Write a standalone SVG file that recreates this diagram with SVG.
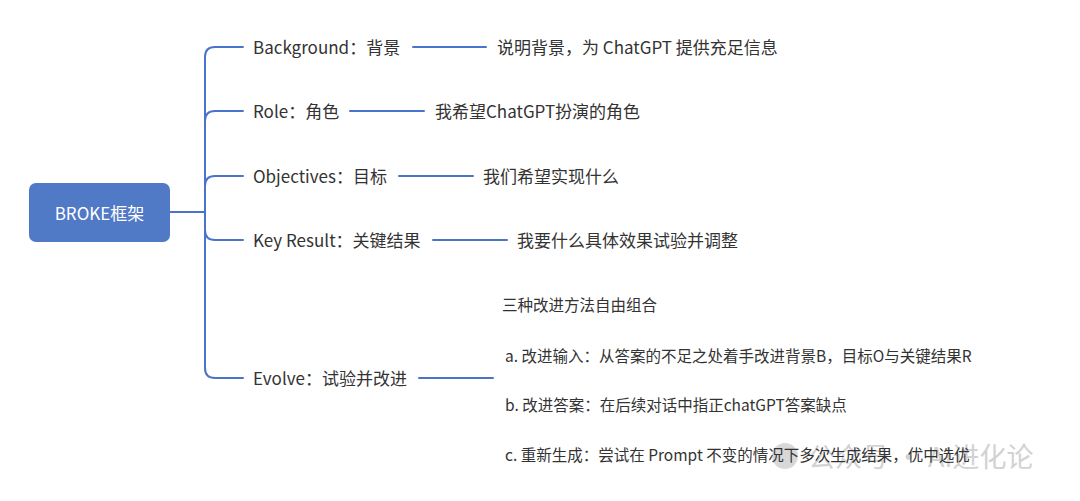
<svg xmlns="http://www.w3.org/2000/svg" width="1080" height="501" viewBox="0 0 1080 501">
<style>
text{font-family:"Noto Sans CJK SC","Noto Sans",sans-serif;fill:#333;}
.l{font-size:17px;}
.s{font-size:15.5px;}
.c{fill:none;stroke:#4a74c9;stroke-width:2;stroke-linecap:round;stroke-linejoin:round;}
.wm{font-size:27px;fill:#c8c8c8;opacity:0.8;}
</style>
<rect width="1080" height="501" fill="#fff"/>
<g id="watermark">
<circle cx="785" cy="456" r="13" fill="#c8c8c8" opacity="0.7"/>
<text class="wm" x="808" y="467">公众号 · AI进化论</text>
</g>
<g id="connectors">
<path class="c" d="M170 212 H205"/>
<path class="c" d="M243 47 H215 Q205 47 205 57 V368 Q205 378 215 378 H243"/>
<path class="c" d="M205 121 Q205 111 215 111 H243"/>
<path class="c" d="M205 186 Q205 176 215 176 H243"/>
<path class="c" d="M205 230 Q205 240 215 240 H243"/>
<path class="c" d="M413 47 H486"/>
<path class="c" d="M350 111 H424"/>
<path class="c" d="M399 176 H473"/>
<path class="c" d="M433 240 H507"/>
<path class="c" d="M419 378 H493"/>
</g>
<g id="root">
<rect x="29" y="183" width="141" height="59" rx="7" fill="#5079c6"/>
<text class="l" x="99.5" y="220" text-anchor="middle" style="fill:#fff">BROKE框架</text>
</g>
<g id="background">
<text class="l" x="253" y="54">Background：背景</text>
<text class="l" x="497" y="54">说明背景，为 ChatGPT 提供充足信息</text>
</g>
<g id="role">
<text class="l" x="253" y="118">Role：角色</text>
<text class="l" x="435" y="118">我希望ChatGPT扮演的角色</text>
</g>
<g id="objectives">
<text class="l" x="253" y="183">Objectives：目标</text>
<text class="l" x="483" y="183">我们希望实现什么</text>
</g>
<g id="keyresult">
<text class="l" x="253" y="247">Key Result：关键结果</text>
<text class="l" x="517" y="247">我要什么具体效果试验并调整</text>
</g>
<g id="evolve">
<text class="l" x="253" y="385">Evolve：试验并改进</text>
<text class="s" x="502" y="311">三种改进方法自由组合</text>
<text class="s" x="505" y="362">a. 改进输入：从答案的不足之处着手改进背景B，目标O与关键结果R</text>
<text class="s" x="505" y="411">b. 改进答案：在后续对话中指正chatGPT答案缺点</text>
<text class="s" x="505" y="461">c. 重新生成：尝试在 Prompt 不变的情况下多次生成结果，优中选优</text>
</g>
</svg>
